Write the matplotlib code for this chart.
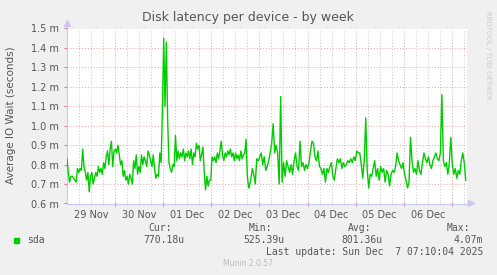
import numpy as np
import matplotlib
matplotlib.use('Agg')
import matplotlib.pyplot as plt
import matplotlib.transforms as mtransforms

# IO wait of sda, in milliseconds
# first part: 29 Nov 00:00 -> 02 Dec ~18:00
seg_a = [0.83, 0.76, 0.71, 0.74, 0.74, 0.73, 0.72, 0.71, 0.78, 0.76, 0.78, 0.77, 0.88, 0.79,
         0.76, 0.72, 0.76, 0.66, 0.74, 0.76, 0.70, 0.73, 0.76, 0.74, 0.79, 0.76, 0.78, 0.75,
         0.81, 0.78, 0.84, 0.87, 0.80, 0.88, 0.92, 0.79, 0.87, 0.88, 0.86, 0.90, 0.85, 0.80,
         0.82, 0.74, 0.77, 0.72, 0.74, 0.70, 0.75, 0.73, 0.70, 0.82, 0.78, 0.85, 0.75, 0.79,
         0.76, 0.85, 0.80, 0.84, 0.82, 0.79, 0.87, 0.85, 0.82, 0.79, 0.85, 0.78, 0.73, 0.75,
         0.74, 0.86, 0.81, 1.08, 1.45, 1.10, 1.43, 1.03, 0.81, 0.78, 0.76, 0.80, 0.79, 0.95,
         0.82, 0.87, 0.83, 0.86, 0.84, 0.88, 0.82, 0.86, 0.84, 0.87, 0.83, 0.88, 0.80, 0.86,
         0.84, 0.91, 0.88, 0.90, 0.82, 0.85, 0.89, 0.76, 0.67, 0.74, 0.69, 0.72, 0.72, 0.84,
         0.82, 0.84, 0.81, 0.86, 0.83, 0.87, 0.92, 0.85, 0.82, 0.86, 0.84, 0.87, 0.85, 0.88,
         0.84, 0.86, 0.82, 0.86, 0.83, 0.85, 0.82, 0.87, 0.83, 0.85, 0.86, 0.93, 0.74, 0.68]
# second part: 02 Dec ~18:00 -> 07 Dec 07:00
seg_b = [0.69, 0.72, 0.78, 0.75, 0.70, 0.83, 0.82, 0.84, 0.86, 0.80, 0.84, 0.77, 0.79, 0.82,
         0.86, 0.91, 1.01, 0.86, 0.90, 0.86, 0.70, 1.15, 0.71, 0.81, 0.74, 0.82, 0.79, 0.76,
         0.80, 0.75, 0.82, 0.86, 0.79, 0.77, 0.92, 0.79, 0.81, 0.77, 0.80, 0.78, 0.81, 0.87,
         0.92, 0.91, 0.84, 0.82, 0.87, 0.79, 0.78, 0.75, 0.78, 0.71, 0.78, 0.76, 0.79, 0.81,
         0.74, 0.72, 0.78, 0.83, 0.81, 0.83, 0.78, 0.81, 0.79, 0.80, 0.82, 0.81, 0.83, 0.81,
         0.84, 0.82, 0.87, 0.86, 0.86, 0.80, 0.73, 0.82, 1.04, 0.77, 0.68, 0.75, 0.74, 0.78,
         0.82, 0.74, 0.78, 0.72, 0.79, 0.76, 0.78, 0.71, 0.77, 0.75, 0.69, 0.75, 0.77, 0.76,
         0.79, 0.86, 0.82, 0.80, 0.78, 0.81, 0.75, 0.72, 0.68, 0.71, 0.94, 0.82, 0.76, 0.78,
         0.75, 0.82, 0.77, 0.75, 0.81, 0.86, 0.83, 0.81, 0.84, 0.80, 0.78, 0.82, 0.84, 0.86,
         0.83, 0.82, 0.86, 1.16, 0.82, 0.79, 0.81, 0.75, 0.81, 0.94, 0.80, 0.75, 0.78, 0.73,
         0.77, 0.75, 0.82, 0.86, 0.81, 0.72]
# time spans of the two parts, in days since 29 Nov 00:00
span_a = (0.0, 3.777)
span_b = (3.79, 8.29)

day_labels = ['29 Nov', '30 Nov', '01 Dec', '02 Dec', '03 Dec', '04 Dec', '05 Dec', '06 Dec']
y_ticks = [0.6, 0.7, 0.8, 0.9, 1.0, 1.1, 1.2, 1.3, 1.4, 1.5]
stats = {'Cur:': '770.18u', 'Min:': '525.39u', 'Avg:': '801.36u', 'Max:': '4.07m'}

W, H = 497, 275
bg = '#f0f0f0'
txt = '#555555'
fig = plt.figure(figsize=(W / 100, H / 100), dpi=100, facecolor=bg)
ax = fig.add_axes([67 / W, 1 - 203.5 / H, 400 / W, 175 / H])
ax.set_facecolor('white')

x_end = 400 / 48.1
ax.set_xlim(0, x_end)
ax.set_ylim(0.6, 1.5)

# grid
for v in y_ticks[1:]:
    ax.axhline(v, color='#e3a5a5', lw=0.7, ls=(0, (1, 2)), zorder=1)
for h in np.arange(0.25, x_end, 0.25):
    if abs(h - round(h)) < 1e-6:
        ax.axvline(h, color='#e3a5a5', lw=0.7, ls=(0, (1, 2)), zorder=1)
    else:
        ax.axvline(h, color='#c4c4c4', lw=0.7, ls=(0, (1, 2)), zorder=1)

xa = np.linspace(span_a[0], span_a[1], len(seg_a))
xb = np.linspace(span_b[0], span_b[1], len(seg_b))
ax.plot(np.concatenate([xa, xb]), seg_a + seg_b, color='#00cc00', lw=1.0, zorder=3)

for s in ['top', 'right']:
    ax.spines[s].set_visible(False)
for s in ['left', 'bottom']:
    ax.spines[s].set_color('#c8c8f5')
    ax.spines[s].set_linewidth(0.8)
ax.plot([0], [1.5 + 5 / 19.4 * 0.1], marker='^', ms=4, color='#c8c8f5', clip_on=False)
ax.plot([x_end + 4 / 48.1], [0.6], marker='>', ms=4, color='#c8c8f5', clip_on=False)
ax.plot([0, 0], [1.5, 1.5 + 4 / 19.4 * 0.1], color='#c8c8f5', lw=0.8, clip_on=False)
ax.plot([x_end, x_end + 3 / 48.1], [0.6, 0.6], color='#c8c8f5', lw=0.8, clip_on=False)

ax.set_yticks(y_ticks)
ax.set_yticklabels(['%.1f m' % v for v in y_ticks], fontsize=7, color=txt)
ax.tick_params(axis='y', length=2, color='#e08080', pad=4)
ax.set_xticks(np.arange(1, 9))
ax.set_xticklabels([])
ax.set_xticks(np.arange(0.25, x_end, 0.25), minor=True)
ax.tick_params(axis='x', which='major', length=3, direction='inout', color='#e08080')
ax.tick_params(axis='x', which='minor', length=2, direction='inout', color='#c4c4c4')

trans = mtransforms.blended_transform_factory(ax.transData, ax.transAxes)
for i, lab in enumerate(day_labels):
    ax.text(i + 0.5, -11.5 / 175, lab, transform=trans, ha='center', va='center',
            fontsize=7, color=txt)

def ftext(x, y, s, **kw):
    fig.text(x / W, 1 - y / H, s, **kw)

ftext(248, 18, 'Disk latency per device - by week', ha='center', va='center',
      fontsize=9, color=txt)
ftext(11, 115, 'Average IO Wait (seconds)', ha='center', va='center', rotation=90,
      fontsize=7.5, color=txt)
ftext(488, 55, 'RRDTOOL / TOBI OETIKER', ha='center', va='center', rotation=270,
      fontsize=5, color='#cccccc')

mono = dict(family='DejaVu Sans Mono', fontsize=7, color=txt, va='center')
fig.patches.append(plt.Rectangle((14 / W, 1 - 243 / H), 5 / W, 5 / H,
                                 transform=fig.transFigure, color='#00cc00'))
ftext(27, 240, 'sda', ha='left', **mono)
head_x = [172, 272, 371, 470]
val_x = [184, 284, 383, 483]
for (k, v), hx, vx in zip(stats.items(), head_x, val_x):
    ftext(hx, 228, k, ha='right', **mono)
    ftext(vx, 240, v, ha='right', **mono)
ftext(483, 252, 'Last update: Sun Dec  7 07:10:04 2025', ha='right', **mono)
ftext(248, 263, 'Munin 2.0.57', ha='center', va='center', fontsize=5.5, color='#bbbbbb')

fig.savefig('out.png', dpi=100, facecolor=bg)
